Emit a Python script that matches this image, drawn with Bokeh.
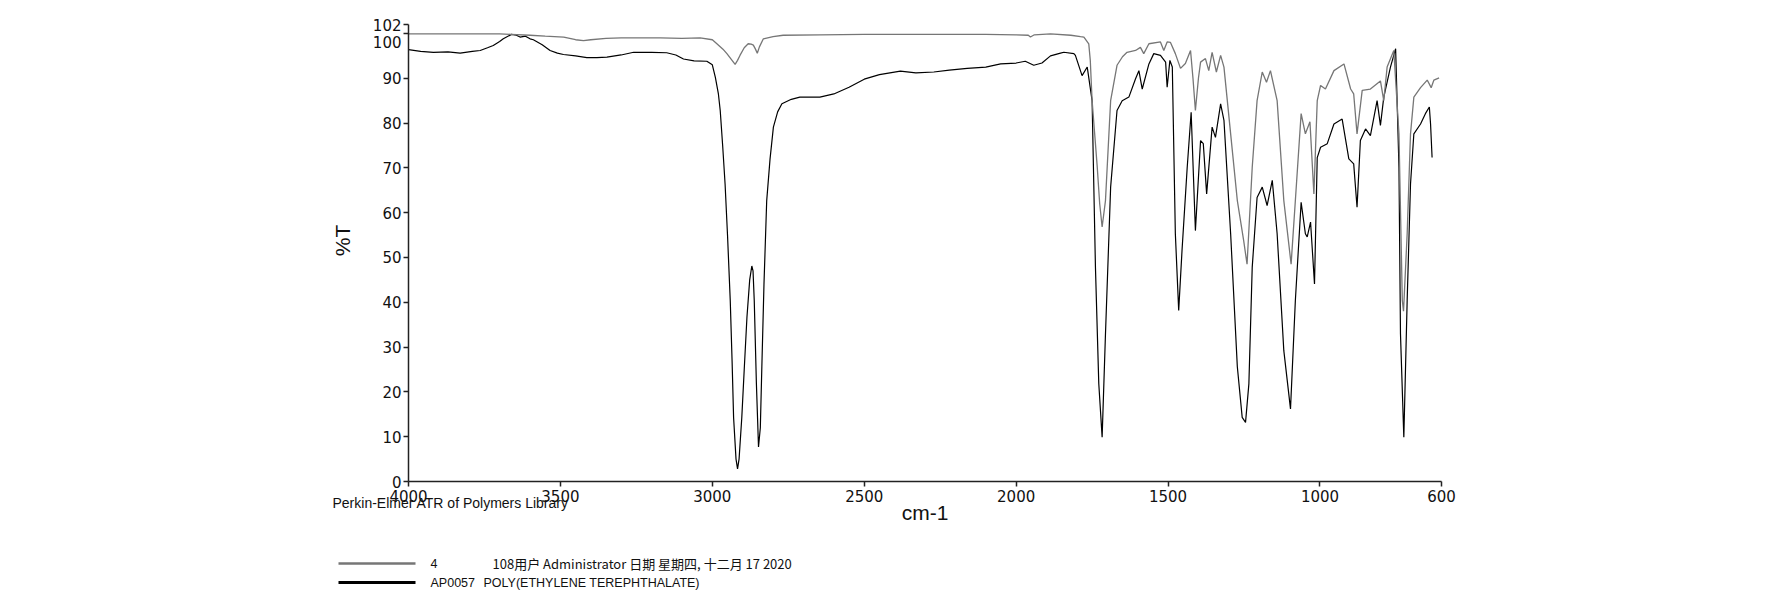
import math
from bokeh.plotting import figure
from bokeh.models import Range1d, FixedTicker, Label, Arrow
from bokeh.embed import file_html
from bokeh.resources import INLINE

# ---------------- data ----------------
x_ticks = [4000, 3500, 3000, 2500, 2000, 1500, 1000, 600]
y_ticks = [0, 10, 20, 30, 40, 50, 60, 70, 80, 90, 100, 102]

sample_name = "4"
sample_desc = "108用户 Administrator 日期 星期四, 十二月 17 2020"
ref_name = "AP0057"
ref_desc = "POLY(ETHYLENE TEREPHTHALATE)"
library_note = "Perkin-Elmer ATR of Polymers Library"
x_title = "cm-1"
y_title = "%T"

# sample spectrum "4" (grey)
sample_wn = [4000, 3900, 3800, 3700, 3664, 3600, 3550, 3489, 3450, 3424, 3400, 3350,
             3300, 3171, 3100, 3040, 3000, 2985, 2965, 2952, 2935, 2925, 2917, 2909,
             2895, 2882, 2872, 2865, 2858, 2852, 2845, 2832, 2800, 2767, 2646, 2500,
             2300, 2100, 2000, 1960, 1953, 1940, 1887, 1820, 1788, 1777, 1761, 1756,
             1750, 1742, 1733, 1725, 1717, 1706, 1689, 1668, 1650, 1635, 1607, 1591,
             1580, 1563, 1525, 1514, 1503, 1492, 1476, 1459, 1443, 1426, 1418, 1410,
             1400, 1393, 1377, 1366, 1355, 1341, 1327, 1316, 1294, 1272, 1251, 1240,
             1223, 1207, 1190, 1176, 1163, 1141, 1119, 1095, 1081, 1062, 1048, 1033,
             1020, 1009, 998, 982, 954, 921, 899, 889, 878, 861, 834, 801,
             790, 779, 757, 740, 729, 725, 713, 702, 691, 669, 647, 634,
             625, 608]
sample_t = [99.9, 99.9, 99.9, 99.9, 99.8, 99.6, 99.4, 99.2, 98.6, 98.4, 98.6, 98.9,
            99.0, 99.0, 98.9, 99.0, 98.6, 97.7, 96.5, 95.5, 94.0, 93.1, 94.0, 95.1,
            96.8, 97.7, 97.6, 97.4, 96.5, 95.6, 97.0, 98.8, 99.3, 99.6, 99.7, 99.8,
            99.8, 99.8, 99.7, 99.6, 99.2, 99.7, 99.9, 99.6, 99.3, 99.2, 97.7, 94.0,
            85.0, 78.0, 70.1, 62.0, 56.8, 62.7, 85.0, 92.9, 94.8, 95.8, 96.2, 96.9,
            95.5, 97.7, 98.1, 96.2, 98.1, 98.0, 95.5, 92.2, 93.3, 96.2, 90.0, 82.8,
            90.0, 93.6, 94.4, 91.7, 95.8, 91.4, 95.1, 92.5, 77.6, 62.7, 53.7, 48.5,
            70.1, 85.0, 91.4, 89.1, 91.7, 85.0, 62.7, 48.5, 62.7, 82.1, 77.6, 80.3,
            64.2, 85.0, 88.4, 87.6, 91.7, 93.2, 87.6, 86.5, 77.6, 87.3, 87.6, 89.4,
            85.0, 92.5, 96.2, 77.6, 40.4, 38.0, 55.3, 77.6, 85.8, 87.9, 89.6, 87.9,
            89.6, 90.1]

# library spectrum AP0057 PET (black)
ref_wn = [4000, 3960, 3918, 3870, 3830, 3790, 3764, 3740, 3721, 3700, 3688, 3661,
          3645, 3633, 3615, 3600, 3589, 3560, 3534, 3510, 3490, 3450, 3413, 3380,
          3347, 3300, 3259, 3200, 3150, 3120, 3095, 3060, 3018, 3000, 2990, 2980,
          2974, 2966, 2958, 2950, 2941, 2935, 2930, 2922, 2917, 2912, 2903, 2895,
          2886, 2877, 2870, 2866, 2862, 2855, 2848, 2842, 2837, 2830, 2821, 2810,
          2799, 2785, 2771, 2740, 2712, 2646, 2600, 2550, 2500, 2450, 2381, 2330,
          2271, 2220, 2161, 2100, 2051, 2000, 1970, 1942, 1915, 1887, 1854, 1843,
          1810, 1805, 1783, 1766, 1750, 1739, 1728, 1717, 1706, 1689, 1668, 1651,
          1629, 1607, 1596, 1585, 1563, 1547, 1525, 1508, 1503, 1494, 1486, 1476,
          1465, 1454, 1437, 1424, 1410, 1393, 1384, 1373, 1355, 1344, 1327, 1316,
          1294, 1272, 1256, 1245, 1234, 1223, 1207, 1190, 1174, 1157, 1141, 1119,
          1097, 1081, 1062, 1048, 1042, 1031, 1018, 1009, 998, 976, 954, 927,
          905, 889, 878, 867, 850, 834, 812, 801, 790, 768, 751, 740,
          735, 724, 713, 702, 691, 669, 653, 640, 636, 631]
ref_t = [96.4, 96.0, 95.8, 95.9, 95.6, 96.0, 96.2, 96.8, 97.3, 98.2, 98.8, 99.8,
         99.6, 99.2, 99.4, 98.8, 98.6, 97.5, 96.2, 95.6, 95.3, 95.0, 94.6, 94.6,
         94.7, 95.2, 95.8, 95.8, 95.7, 95.2, 94.3, 93.9, 93.8, 93.0, 90.2, 86.5,
         82.8, 75.0, 66.4, 55.0, 40.4, 27.0, 14.3, 5.0, 2.8, 5.0, 14.3, 25.0,
         36.7, 45.0, 48.1, 47.0, 40.4, 22.0, 7.7, 12.0, 25.6, 44.0, 62.7, 72.0,
         79.1, 82.5, 84.3, 85.3, 85.8, 85.8, 86.5, 88.0, 89.8, 90.8, 91.6, 91.2,
         91.4, 91.8, 92.2, 92.5, 93.2, 93.4, 93.8, 92.9, 93.4, 95.0, 95.6, 95.8,
         95.5, 95.1, 90.6, 92.5, 85.0, 47.8, 21.8, 9.9, 32.9, 65.7, 82.8, 85.0,
         85.8, 89.9, 91.7, 87.6, 93.2, 95.5, 95.1, 93.6, 88.0, 94.0, 92.5, 55.3,
         38.2, 51.6, 70.1, 82.4, 56.0, 76.1, 75.4, 64.2, 79.1, 76.8, 84.3, 80.6,
         55.3, 25.6, 14.3, 13.2, 21.8, 47.8, 63.4, 65.7, 61.6, 67.2, 55.3, 29.2,
         16.2, 40.4, 62.3, 55.3, 54.6, 57.9, 44.1, 72.3, 74.6, 75.4, 79.8, 80.9,
         72.0, 70.9, 61.2, 76.1, 78.7, 77.2, 85.0, 79.5, 85.8, 92.5, 96.6, 70.1,
         32.9, 9.9, 40.4, 66.4, 77.6, 79.8, 82.1, 83.6, 79.8, 72.3]

GREY = "#767676"
BLACK = "#000000"
TEXT = "#111111"

# ---------------- layout (page pixels) ----------------
W, H = 1765, 592
AX_L, AX_R, AX_T, AX_B = 408, 1441, 24, 481   # axis box in page px
WN_L, WN_R, T_B, T_T = 4000, 600, 0, 102

kx = (WN_R - WN_L) / (AX_R - AX_L)   # data per px (x)
ky = (T_T - T_B) / (AX_T - AX_B)     # data per px (y)


def dx(px):
    return WN_L + (px - AX_L) * kx


def dy(py):
    return T_B + (py - AX_B) * ky


# frame spans the whole canvas; axes are pinned at their data location
p = figure(width=W, height=H, output_backend="svg", toolbar_location=None,
           x_range=Range1d(dx(0), dx(W)), y_range=Range1d(dy(H), dy(0)),
           min_border=0)
p.outline_line_color = None
p.xgrid.visible = False
p.ygrid.visible = False
p.background_fill_color = "white"
p.border_fill_color = "white"

xa, ya = p.xaxis[0], p.yaxis[0]
xa.fixed_location = T_B
xa.bounds = (WN_R, WN_L)
ya.fixed_location = WN_L
ya.bounds = (T_B, T_T)

for ax in (xa, ya):
    ax.axis_line_color = "#222222"
    ax.axis_line_width = 1.5
    ax.major_tick_line_color = "#222222"
    ax.major_tick_line_width = 1.5
    ax.major_tick_in = 0
    ax.major_tick_out = 5
    ax.minor_tick_line_color = None
    ax.major_label_text_font = "DejaVu Sans"
    ax.major_label_text_font_size = "15px"
    ax.major_label_text_color = TEXT
    ax.axis_label_text_font = "Liberation Sans"
    ax.axis_label_text_font_size = "21px"
    ax.axis_label_text_font_style = "normal"
    ax.axis_label_text_color = TEXT

xa.ticker = FixedTicker(ticks=x_ticks)
ya.ticker = FixedTicker(ticks=y_ticks)
xa.major_label_standoff = 3
ya.major_label_standoff = 2
xa.axis_label = x_title
xa.axis_label_standoff = -4
# the "100" label sits a little below its tick in the original (it would
# otherwise collide with "102"); it is drawn as a label further down
ya.major_label_overrides = {100: ""}

p.line(ref_wn, ref_t, line_color=BLACK, line_width=1.2)
p.line(sample_wn, sample_t, line_color=GREY, line_width=1.3)


def add_label(text, px, py, size, font="Liberation Sans", align="left", angle=0.0):
    p.add_layout(Label(x=dx(px), y=dy(py), text=text, text_font=font,
                       text_font_size=size, text_color=TEXT, angle=angle,
                       text_align=align, text_baseline="middle"))


add_label("100", 401, 41, "15px", font="DejaVu Sans", align="right")
add_label(y_title, 342, 240, "21px", align="center", angle=math.pi / 2)
add_label(library_note, 332, 502, "14px")
add_label(sample_name, 430, 563, "12.5px")
add_label(sample_desc, 492, 563, "13px", font="Noto Sans CJK SC")
add_label(ref_name, 430, 582, "12.5px")
add_label(ref_desc, 483, 582, "12.5px")

for py, col, lw in ((563, GREY, 2.5), (582, BLACK, 3)):
    p.add_layout(Arrow(end=None, start=None,
                       x_start=dx(338), y_start=dy(py),
                       x_end=dx(415), y_end=dy(py),
                       line_color=col, line_width=lw))

with open("out.html", "w") as f:
    f.write(file_html(p, INLINE))
